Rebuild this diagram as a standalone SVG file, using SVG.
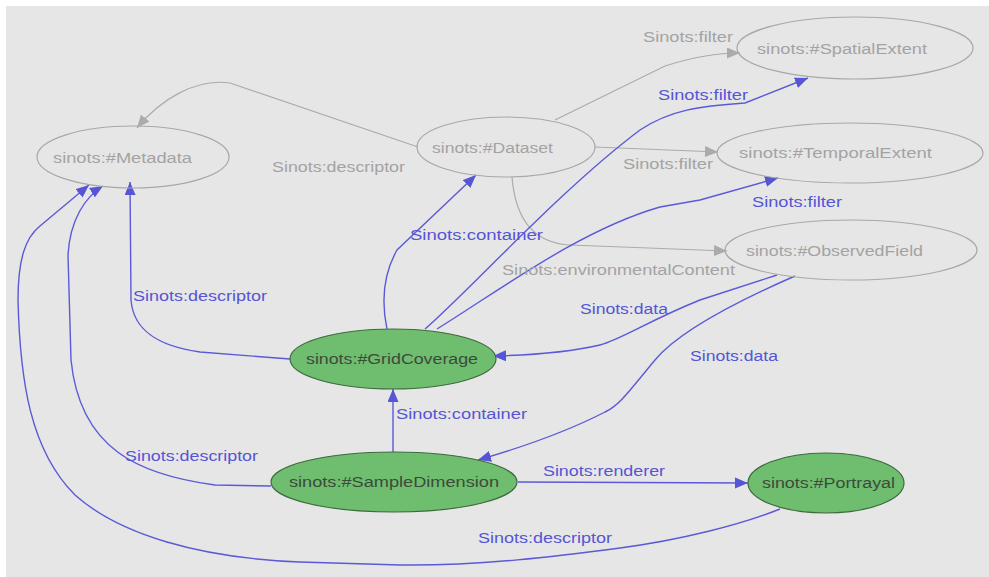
<svg xmlns="http://www.w3.org/2000/svg" width="989" height="577" viewBox="0 0 989 577">
<defs>
<style>
.bg{fill:#e6e6e6}
.gnode ellipse{fill:none;stroke:#a8a8a8;stroke-width:1.2}
.gnode text{fill:#a3a3a3}
.fnode ellipse{fill:#6fbd6f;stroke:#3d6b3d;stroke-width:1.2}
.fnode text{fill:#3b4b3b}
text{font-family:"Liberation Sans","DejaVu Sans",sans-serif;font-size:14px}
.ge{fill:none;stroke:#ababab;stroke-width:1.2;marker-end:url(#ag)}
.be{fill:none;stroke:#5a5ad8;stroke-width:1.4;marker-end:url(#ab)}
.gl{fill:#a3a3a3}
.bl{fill:#5555d5}
</style>
<marker id="ag" markerUnits="userSpaceOnUse" markerWidth="14" markerHeight="12" refX="13" refY="5.5" orient="auto"><path d="M0,0 L13,5.5 L0,11 z" fill="#ababab"/></marker>
<marker id="ab" markerUnits="userSpaceOnUse" markerWidth="14" markerHeight="12" refX="13" refY="5.5" orient="auto"><path d="M0,0 L13,5.5 L0,11 z" fill="#5555d5"/></marker>
</defs>
<rect class="bg" x="6" y="6" width="983" height="571"/>
<g id="connectors">
<path class="ge" d="M418,147 L230,83 C195,78 160,100 137,128"/>
<path class="ge" d="M555,120 L665,66 C690,58 715,53 740,53"/>
<path class="ge" d="M595,147 L718,152"/>
<path class="ge" d="M512,177 C515,215 530,243 570,245 L727,251"/>
<path class="be" d="M290,359 L200,352 C150,345 133,325 131,300 L130,182"/>
<path class="be" d="M271,486 L215,485 C140,475 80,450 71,360 L68,255 C70,220 85,197 103,186"/>
<path class="be" d="M780,509 C740,525 680,540 620,548 C560,556 480,566 400,565 L300,562 C200,558 120,535 75,495 C30,450 20,380 18,300 C18,260 25,238 40,226 L89,185"/>
<path class="be" d="M387,329 C383,310 380,280 397,250 L476,175"/>
<path class="be" d="M425,329 C470,290 560,190 640,130 C670,110 700,106 745,103 L808,78"/>
<path class="be" d="M437,329 C500,290 580,230 660,207 L700,200 L778,178"/>
<path class="be" d="M777,275 L700,300 C650,320 620,340 600,345 C570,352 540,355 493,356"/>
<path class="be" d="M795,276 C740,300 680,330 655,360 C630,390 620,405 605,412 C570,430 530,445 478,460"/>
<path class="be" d="M393,452 L393,389"/>
<path class="be" d="M518,482 L748,483"/>
<text class="gl" x="272" y="172" textLength="133" lengthAdjust="spacingAndGlyphs">Sinots:descriptor</text>
<text class="gl" x="643" y="42" textLength="90" lengthAdjust="spacingAndGlyphs">Sinots:filter</text>
<text class="gl" x="623" y="169" textLength="90" lengthAdjust="spacingAndGlyphs">Sinots:filter</text>
<text class="gl" x="502" y="275" textLength="233" lengthAdjust="spacingAndGlyphs">Sinots:environmentalContent</text>
<text class="bl" x="133" y="301" textLength="134" lengthAdjust="spacingAndGlyphs">Sinots:descriptor</text>
<text class="bl" x="125" y="461" textLength="133" lengthAdjust="spacingAndGlyphs">Sinots:descriptor</text>
<text class="bl" x="478" y="543" textLength="134" lengthAdjust="spacingAndGlyphs">Sinots:descriptor</text>
<text class="bl" x="410" y="240" textLength="133" lengthAdjust="spacingAndGlyphs">Sinots:container</text>
<text class="bl" x="658" y="100" textLength="90" lengthAdjust="spacingAndGlyphs">Sinots:filter</text>
<text class="bl" x="752" y="207" textLength="90" lengthAdjust="spacingAndGlyphs">Sinots:filter</text>
<text class="bl" x="580" y="314" textLength="88" lengthAdjust="spacingAndGlyphs">Sinots:data</text>
<text class="bl" x="690" y="361" textLength="88" lengthAdjust="spacingAndGlyphs">Sinots:data</text>
<text class="bl" x="396" y="419" textLength="131" lengthAdjust="spacingAndGlyphs">Sinots:container</text>
<text class="bl" x="543" y="476" textLength="122" lengthAdjust="spacingAndGlyphs">Sinots:renderer</text>
</g>
<g id="metadata" class="gnode"><ellipse cx="133" cy="157" rx="96" ry="31"/><text x="53" y="163" textLength="139" lengthAdjust="spacingAndGlyphs">sinots:#Metadata</text></g>
<g id="dataset" class="gnode"><ellipse cx="506" cy="147" rx="89" ry="30"/><text x="432" y="153" textLength="121" lengthAdjust="spacingAndGlyphs">sinots:#Dataset</text></g>
<g id="spatialextent" class="gnode"><ellipse cx="855" cy="48" rx="118" ry="31"/><text x="757" y="54" textLength="170" lengthAdjust="spacingAndGlyphs">sinots:#SpatialExtent</text></g>
<g id="temporalextent" class="gnode"><ellipse cx="850" cy="153" rx="133" ry="30"/><text x="739" y="158" textLength="193" lengthAdjust="spacingAndGlyphs">sinots:#TemporalExtent</text></g>
<g id="observedfield" class="gnode"><ellipse cx="851" cy="250" rx="126" ry="30"/><text x="746" y="256" textLength="177" lengthAdjust="spacingAndGlyphs">sinots:#ObservedField</text></g>
<g id="gridcoverage" class="fnode"><ellipse cx="393" cy="359" rx="103" ry="30"/><text x="306" y="364" textLength="172" lengthAdjust="spacingAndGlyphs">sinots:#GridCoverage</text></g>
<g id="sampledimension" class="fnode"><ellipse cx="394" cy="482" rx="123" ry="30"/><text x="289" y="487" textLength="210" lengthAdjust="spacingAndGlyphs">sinots:#SampleDimension</text></g>
<g id="portrayal" class="fnode"><ellipse cx="826" cy="483" rx="78" ry="30"/><text x="762" y="488" textLength="133" lengthAdjust="spacingAndGlyphs">sinots:#Portrayal</text></g>
</svg>
